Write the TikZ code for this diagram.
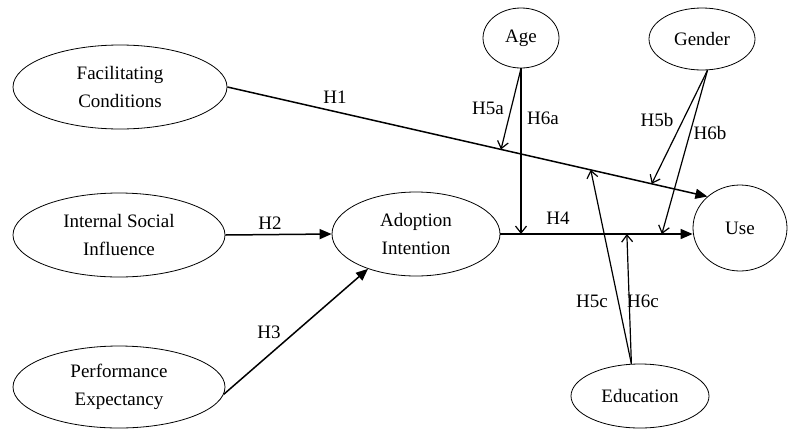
\documentclass[tikz,border=0pt]{standalone}
\usepackage{fontspec}
\setmainfont{Liberation Serif}
\usetikzlibrary{shapes.geometric,arrows.meta,calc}
\begin{document}
\begin{tikzpicture}[x=1pt,y=-1pt,
  var/.style={draw, ellipse, line width=0.8pt, inner sep=0pt, font=\fontsize{19}{28}\selectfont, align=center},
  mainarr/.style={line width=1.5pt, -{Triangle[length=12pt,width=10pt]}},
  modarr/.style={line width=1.2pt, -{Straight Barb[length=7pt,width=11pt]}},
  lbl/.style={font=\fontsize{19}{22}\selectfont, inner sep=0pt}]
\useasboundingbox (0,0) rectangle (789,429);
\node[var, minimum width=214pt, minimum height=84pt] (fc) at (120,87) {Facilitating\\Conditions};
\node[var, minimum width=212pt, minimum height=84pt] (isi) at (119,235) {Internal Social\\Influence};
\node[var, minimum width=212pt, minimum height=82pt] (pe) at (119,387) {Performance\\Expectancy};
\node[var, minimum width=168pt, minimum height=84pt] (ai) at (416,234) {Adoption\\Intention};
\node[var, minimum width=94pt, minimum height=86pt] (use) at (740,228) {Use};
\node[var, minimum width=76pt, minimum height=60pt] (age) at (521,38) {Age};
\node[var, minimum width=106pt, minimum height=62pt] (gender) at (702,39) {Gender};
\node[var, minimum width=138pt, minimum height=64pt] (edu) at (640,396) {Education};

\draw[mainarr] (fc.east) -- (use.136);
\draw[mainarr] (isi.east) -- (ai.west);
\draw[mainarr] (pe.-4) -- (ai.216);
\coordinate (h4end) at (ai.east -| use.west);
\draw[mainarr] (ai.east) -- (h4end);

\coordinate (p5a) at ($(fc.east)!0.57!(use.136)$);
\coordinate (p5b) at ($(fc.east)!0.884!(use.136)$);
\coordinate (p5c) at ($(fc.east)!0.757!(use.136)$);
\coordinate (p6a) at (age.south |- ai.east);
\coordinate (p6b) at ($(ai.east)!0.84!(h4end)$);
\coordinate (p6c) at ($(ai.east)!0.658!(h4end)$);

\draw[modarr] (age.south) -- (p5a);
\draw[modarr] (age.south) -- (p6a);
\draw[modarr] (gender.280) -- (p5b);
\draw[modarr] (gender.280) -- (p6b);
\draw[modarr] (edu.105) -- (p5c);
\draw[modarr] (edu.105) -- (p6c);

\node[lbl] (l1) at (335,97) {H1};
\node[lbl] (l2) at (270,223) {H2};
\node[lbl] (l3) at (269,332) {H3};
\node[lbl] (l4) at (558,218) {H4};
\node[lbl] (l5a) at (488,108) {H5a};
\node[lbl] (l6a) at (543,118) {H6a};
\node[lbl] (l5b) at (657,120) {H5b};
\node[lbl] (l6b) at (710,133) {H6b};
\node[lbl] (l5c) at (592,301) {H5c};
\node[lbl] (l6c) at (643,301) {H6c};
\end{tikzpicture}
\end{document}
